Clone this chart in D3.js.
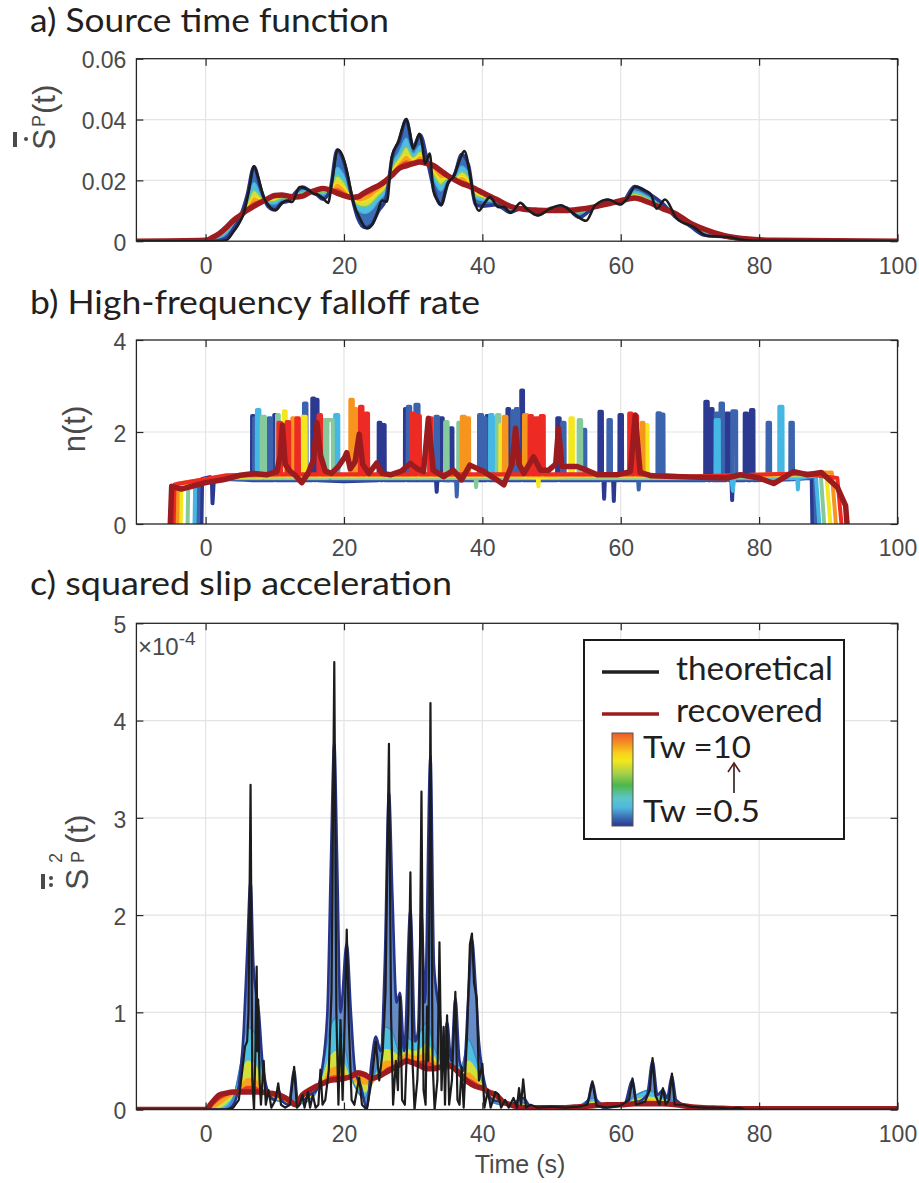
<!DOCTYPE html>
<html>
<head>
<meta charset="utf-8">
<script src="https://cdn.jsdelivr.net/npm/d3@7/dist/d3.min.js"></script>
<style>
  body { margin: 0; background: #fff; }
</style>
</head>
<body>
<svg id="fig" width="919" height="1183"></svg>
<script>
// ---------- shared x axis ----------
const xTickVals = [0, 20, 40, 60, 80, 100];
const xTickText = ['0', '20', '40', '60', '80', '100'];

// ---------- a) source time function ----------
const stfTicks = [0, 0.02, 0.04, 0.06];
const stfTickText = ['0', '0.02', '0.04', '0.06'];
// theoretical curve, [t, value]
const stfTheory = [[-10,0],[2,0],[3,0.0003],[4,0.003],[5,0.0065],[5.5,0.009],[6.2,0.016],[7.0,0.0246],[7.6,0.021],[8.4,0.0145],[9.2,0.0115],[10.1,0.0102],[11,0.0125],[11.7,0.0134],[12.5,0.0129],[13.6,0.0178],[14.3,0.0175],[14.9,0.0167],[15.6,0.0156],[16.3,0.0152],[17.0,0.014],[17.7,0.0126],[18.3,0.02],[19.1,0.0301],[19.8,0.028],[20.4,0.0233],[21.4,0.0124],[22.3,0.0075],[23.3,0.0042],[24.1,0.0055],[24.8,0.0091],[25.5,0.0134],[26.2,0.013],[26.9,0.0276],[27.9,0.0331],[28.4,0.037],[29.0,0.0402],[29.5,0.036],[30.0,0.0304],[30.9,0.0353],[31.3,0.032],[31.7,0.0255],[32.4,0.0288],[32.9,0.0167],[33.5,0.0135],[34.1,0.0118],[34.6,0.016],[35.1,0.0194],[35.8,0.0211],[36.6,0.026],[37.4,0.0296],[38.2,0.0222],[38.8,0.014],[39.5,0.0100],[40.3,0.0125],[41.1,0.0145],[42.3,0.0112],[43.1,0.0113],[44.1,0.0093],[45.5,0.0126],[46.4,0.0107],[48.0,0.0085],[49.8,0.0107],[51.3,0.0118],[53.2,0.0091],[55.0,0.0067],[56.3,0.0118],[58.2,0.0137],[59.9,0.0121],[61.1,0.0145],[62.1,0.018],[63.2,0.017],[64.3,0.0156],[65.2,0.0107],[66.4,0.0137],[68.1,0.0074],[70.5,0.0047],[72.5,0.0017],[75.4,0.0014],[77.8,0.0004],[80.2,0.0001],[100,0]];
// recovered curves share one time grid
const stfTime = [-10, 0,1,2,3,4,5,6,7,8,9,10, 11,12,13,14,15,16,17,18,19,20, 21,22,23,24,25,26,27,28,29,30, 31,32,33,34,35,36,37,38,39,40, 42,44,46,48,50,52,54,56,58,60,62,64,66,68,70, 72,75,78,82,100];
const stfTw05 = [0, 0,0,0.0002,0.001,0.004,0.008,0.015,0.0245,0.017,0.0115,0.0103, 0.0125,0.0132,0.016,0.0178,0.0167,0.0154,0.0138,0.017,0.030,0.026, 0.016,0.0075,0.0045,0.0055,0.010,0.0135,0.028,0.033,0.040,0.031, 0.035,0.027,0.017,0.012,0.019,0.022,0.0285,0.025,0.012,0.0115, 0.012,0.0095,0.011,0.0087,0.0108,0.011,0.0078,0.011,0.0135,0.0122,0.018,0.0158,0.0125,0.0078,0.005, 0.002,0.0014,0.0005,0.0001,0];
const stfTw1 = [0, 0.0001,0.0005,0.0011,0.0024,0.0051,0.0082,0.0131,0.0193,0.0153,0.0125,0.0122, 0.0136,0.0138,0.0154,0.0166,0.0164,0.016,0.0152,0.0169,0.0243,0.0216, 0.0154,0.0103,0.0091,0.0102,0.0133,0.016,0.0255,0.0294,0.0339,0.0288, 0.0314,0.0264,0.0201,0.0165,0.02,0.0213,0.0247,0.0223,0.0141,0.0133, 0.0127,0.0103,0.0108,0.0093,0.0105,0.0106,0.0089,0.0111,0.013,0.0126,0.0165,0.0146,0.0118,0.0083,0.0054, 0.0028,0.0016,0.0006,0.0002,0];
const stfTw2 = [0, 0.0002,0.0007,0.0016,0.0031,0.0057,0.0083,0.0121,0.0167,0.0145,0.013,0.0131, 0.0141,0.0142,0.0151,0.016,0.0163,0.0162,0.0159,0.0169,0.0215,0.0194, 0.015,0.0118,0.0114,0.0125,0.015,0.0173,0.0243,0.0276,0.0309,0.0277, 0.0296,0.0261,0.0217,0.0187,0.0205,0.0209,0.0228,0.0209,0.0151,0.0142, 0.0131,0.0107,0.0107,0.0096,0.0104,0.0105,0.0094,0.0111,0.0127,0.0129,0.0157,0.014,0.0115,0.0085,0.0056, 0.0032,0.0016,0.0007,0.0002,0];
const stfTw4 = [0, 0.0002,0.0009,0.0019,0.0037,0.0061,0.0084,0.0114,0.0146,0.0138,0.0134,0.0139, 0.0146,0.0144,0.0149,0.0155,0.0162,0.0165,0.0165,0.0168,0.0192,0.0176, 0.0148,0.0129,0.0132,0.0144,0.0163,0.0183,0.0233,0.0262,0.0284,0.0268, 0.0282,0.0259,0.0229,0.0205,0.0209,0.0206,0.0213,0.0198,0.016,0.0149, 0.0134,0.011,0.0106,0.0098,0.0103,0.0103,0.0099,0.0112,0.0125,0.013,0.0151,0.0135,0.0112,0.0087,0.0058, 0.0035,0.0017,0.0007,0.0003,0];
const stfTw7 = [0, 0.0003,0.0011,0.0023,0.0042,0.0065,0.0085,0.0107,0.0128,0.0132,0.0138,0.0145, 0.0149,0.0146,0.0147,0.0151,0.0161,0.0167,0.017,0.0168,0.0172,0.0161, 0.0146,0.0139,0.015,0.016,0.0175,0.0192,0.0224,0.0249,0.0263,0.026, 0.0269,0.0257,0.024,0.0221,0.0213,0.0204,0.02,0.0189,0.0167,0.0156, 0.0136,0.0113,0.0105,0.01,0.0102,0.0102,0.0102,0.0112,0.0123,0.0132,0.0146,0.0131,0.011,0.0089,0.0059, 0.0038,0.0018,0.0008,0.0003,0];
const stfTw10 = [0, 0.0003,0.0012,0.0025,0.0045,0.0068,0.0085,0.0102,0.0115,0.0128,0.014,0.015, 0.0152,0.0148,0.0145,0.0148,0.016,0.0168,0.0173,0.0168,0.0158,0.015, 0.0144,0.0146,0.016,0.0172,0.0183,0.0198,0.0218,0.024,0.0248,0.0255, 0.026,0.0255,0.0248,0.0232,0.0215,0.0202,0.019,0.0182,0.0172,0.016, 0.0138,0.0115,0.0105,0.0102,0.0101,0.0101,0.0105,0.0112,0.0122,0.0133,0.0142,0.0128,0.0108,0.009,0.006, 0.004,0.0018,0.0008,0.0003,0];

// ---------- b) high-frequency falloff rate ----------
const nTicks = [0, 2, 4];
const nTickText = ['0', '2', '4'];
// each Tw: base knots [t, n], bursts [start, end, peak n], base level under the bursts
const nLevel = [0.95, 0.97, 1.0, 1.0, 1.04, 1.06, 1.08];
const nBase05 = [[-0.6,0],[-0.5,0.98],[0.6,1.02],[0.9,1.0],[1.0,0.45],[1.2,1.0],[5,0.97],[20,0.93],[33.3,0.95],[33.4,0.7],[33.5,0.95],[50,0.95],[57.5,0.95],[57.6,0.55],[57.7,0.95],[58.9,0.95],[59.0,0.5],[59.1,0.95],[76.0,0.95],[76.1,0.52],[76.2,0.95],[87.6,1.0],[87.7,0]];
const nSpike05 = [[6.7,7.0,2.35],[9.9,10.2,2.37],[15.4,15.7,2.73],[15.9,16.2,2.7],[25.0,25.3,2.2],[25.6,25.9,2.15],[28.8,29.1,2.5],[33.9,34.3,2.3],[35.3,35.7,2.08],[40.6,41.0,2.35],[43.6,43.9,2.5],[45.6,45.9,2.9],[50.8,51.2,2.3],[56.9,57.3,2.44],[59.8,60.2,2.37],[72.2,72.6,2.66],[73.0,73.3,2.5],[75.2,75.7,2.4],[77.9,78.3,2.4],[78.8,79.2,2.48]];
const nBase1 = [[-1.1,0],[-1,0.95],[2,0.98],[20,0.97],[35,0.95],[36.2,0.95],[36.3,0.6],[36.4,0.95],[60,0.97],[62.5,0.97],[62.6,0.75],[62.7,0.97],[88.1,1.02],[88.2,0]];
const nSpike1 = [[7.0,7.3,2.3],[9.1,9.5,2.3],[14.2,14.6,2.62],[29.2,29.6,2.55],[30.3,30.8,2.59],[33.2,33.6,2.33],[39.5,40.0,2.37],[40.1,40.5,2.3],[44.3,44.7,2.45],[44.8,45.2,2.5],[51.5,51.9,2.2],[54.5,54.9,2.05],[58.2,58.6,2.26],[65.3,65.7,2.41],[65.8,66.2,2.38],[73.7,74.1,2.4],[74.4,74.8,2.62],[76.1,76.7,2.45],[81.2,81.6,2.2],[84.5,84.9,2.2]];
const nBase15 = [[-1.6,0],[-1.5,0.92],[3,1.0],[30,1.0],[60,1.0],[76,1.0],[76.2,0.72],[76.4,1.0],[85.5,1.0],[85.6,0.75],[85.7,1.0],[88.2,1.06],[88.7,0]];
const nSpike15 = [[7.4,7.8,2.48],[18.7,19.2,2.37],[41.1,41.5,2.37],[41.6,42.0,2.3],[73.7,74.2,2.26],[82.9,83.4,2.55]];
const nBase2 = [[-2.6,0],[-2.5,0.9],[3,1.0],[39,1.0],[39.1,0.8],[39.2,1.0],[70,1.0],[86,1.05],[88.9,1.1],[89.4,0]];
const nSpike2 = [[8.1,8.6,2.33],[10.3,10.6,2.37],[17.0,17.4,2.26],[17.6,18.4,2.26],[34.6,35.0,2.22],[36.5,36.9,2.2],[42.1,42.5,2.37],[53.9,54.3,2.26]];
const nBase4 = [[-3.6,0],[-3.5,0.88],[3,1.02],[48,1.02],[48.1,0.82],[48.2,1.02],[70,1.02],[86,1.08],[89.7,1.12],[90.3,0]];
const nSpike4 = [[11.3,11.6,2.45],[14.0,14.5,2.33],[42.6,43.0,2.15],[52.7,53.1,2.3],[63.5,63.9,2.15]];
const nBase6 = [[-4.1,0],[-4,0.88],[3,1.04],[70,1.02],[86,1.1],[90.5,1.12],[91.1,0]];
const nSpike6 = [[12.5,12.9,2.3],[20.9,21.3,2.7],[21.4,21.8,2.5],[37.0,37.5,2.33],[37.7,38.1,2.3],[43.1,43.5,2.33],[46.0,46.5,2.37],[63.0,63.3,2.2]];
const nBase8 = [[-4.6,0],[-4.5,0.86],[3,1.06],[70,1.03],[86,1.1],[91.3,1.0],[91.9,0]];
const nSpike8 = [[10.5,10.9,2.2],[11.7,12.1,2.22],[13.1,13.5,2.3],[16.3,16.7,2.37],[22.3,22.7,2.55],[23.1,23.5,2.4],[29.7,30.1,2.4],[30.5,31.0,2.35],[32.3,32.7,2.3],[46.8,47.2,2.35],[47.6,48.0,2.3],[48.4,48.9,2.35],[61.2,61.6,2.4],[61.9,62.4,2.35]];
const nTw10 = [[-5.1,0],[-4.9,0.82],[-3.5,0.76],[-2,0.82],[0,0.9],[2.5,0.96],[5,1.06],[7,1.1],[8.8,1.07],[10.3,1.14],[10.8,1.5],[11.1,2.15],[11.5,1.3],[12.2,1.15],[13,1.05],[13.9,0.9],[14.8,1.1],[15.6,1.4],[16.1,2.2],[16.6,1.5],[17.3,1.15],[18.2,1.1],[19.2,1.25],[20.1,1.45],[20.4,1.55],[20.9,1.2],[21.6,1.35],[22.2,1.95],[22.7,1.3],[23.6,1.1],[24.7,1.32],[25.5,1.1],[26.7,1.07],[28.3,1.15],[29.6,1.32],[30.6,1.2],[31.5,1.14],[32.2,2.3],[32.9,1.17],[34.4,1.03],[35.8,1.17],[37,0.96],[38.2,1.28],[40.2,1.14],[42.1,0.96],[43.1,0.85],[44.3,1.3],[44.8,2.08],[45.3,1.3],[46,1.1],[47.4,1.46],[48.4,1.17],[49.6,1.17],[50.6,1.3],[51,2.08],[51.5,1.25],[53.7,1.25],[55.1,1.17],[56.6,1.07],[59.5,1.07],[61.4,1.14],[62.1,2.37],[62.8,1.12],[64.3,1.05],[70,1.02],[75.3,1.0],[77.3,1.07],[80,1.0],[82.1,0.88],[85,1.14],[87,1.07],[89,1.12],[91.3,0.8],[92.5,0.4],[92.7,0]];

// ---------- c) squared slip acceleration, units of 1e-4 ----------
const accTicks = [0, 1, 2, 3, 4, 5];
const accTickText = ['0', '1', '2', '3', '4', '5'];
const accTheory = [[-10,0],[3,0],[4,0.02],[4.8,0.1],[5.3,0.4],[5.7,0.65],[6.0,0.7],[6.2,1.0],[6.5,3.34],[6.75,0.3],[7.0,0],[7.2,0.6],[7.38,1.47],[7.5,0.6],[7.6,1.13],[7.8,0.3],[8.0,0.05],[8.4,0.5],[8.7,0.05],[9.1,0.2],[9.5,0.02],[10.1,0.1],[10.5,0.27],[10.9,0.05],[11.5,0.02],[12.2,0.05],[12.8,0.44],[13.2,0.02],[13.6,0.05],[14.0,0.15],[14.3,0.02],[14.8,0.18],[15.1,0.02],[15.5,0.15],[15.9,0.02],[16.3,0.05],[16.6,0.41],[16.9,0.05],[17.3,0.1],[17.8,0.4],[18.2,1.2],[18.6,4.6],[18.9,1.0],[19.2,0.05],[19.5,0.92],[19.8,0.1],[20.1,0.9],[20.4,1.85],[20.7,0.9],[21.1,0.1],[21.5,0.05],[22.2,0.33],[22.6,0.05],[23.3,0],[24.0,0.3],[24.6,0.7],[25.1,0.3],[25.6,0.6],[26.0,1.2],[26.5,3.76],[26.8,1.0],[27.1,0.05],[27.5,0.5],[27.8,0.2],[28.1,1.16],[28.4,0.1],[28.8,0.05],[29.3,1.0],[29.6,2.44],[29.9,0.5],[30.2,0.0],[30.6,0.3],[30.9,0.9],[31.2,3.27],[31.5,0.2],[31.8,0.05],[32.0,1.06],[32.2,0.5],[32.5,4.18],[32.8,0.5],[33.1,0.0],[33.5,0.3],[33.8,1.72],[34.1,0.2],[34.4,0.85],[34.6,0.05],[34.9,0.97],[35.2,0.05],[35.6,0.3],[36.1,1.21],[36.4,0.1],[36.7,0.05],[37.0,0.44],[37.3,0.02],[37.8,0.8],[38.2,1.7],[38.5,1.81],[38.8,1.3],[39.2,1.14],[39.5,0.3],[40.0,0.47],[40.3,0.02],[40.8,0.2],[41.2,0.02],[41.9,0.18],[42.3,0.16],[42.7,0.02],[43.3,0.1],[43.8,0.02],[44.5,0.12],[45.0,0.02],[45.3,0.22],[45.6,0.05],[45.9,0.31],[46.3,0.02],[47,0.05],[48,0.02],[50,0.03],[52,0.02],[54,0.03],[55.2,0.05],[55.9,0.29],[56.5,0.04],[58,0.02],[60,0.04],[61.2,0.1],[61.7,0.32],[62.2,0.05],[63.5,0.08],[64.2,0.2],[64.6,0.53],[65.0,0.15],[65.6,0.05],[66.1,0.22],[66.5,0.05],[67.0,0.1],[67.4,0.37],[67.8,0.05],[69,0.05],[70,0.03],[72,0.02],[74,0.02],[76,0.01],[77,0.02],[78,0],[100,0]];
const accTw05 = [[-10,0],[3,0],[4,0.05],[4.8,0.25],[5.5,0.8],[6.0,1.6],[6.5,2.36],[6.9,1.5],[7.3,1.2],[7.7,1.0],[8.2,0.5],[8.6,0.3],[9.2,0.15],[10.0,0.1],[10.5,0.2],[11.2,0.08],[12.0,0.05],[12.8,0.4],[13.3,0.1],[14.2,0.1],[15,0.15],[16,0.2],[16.8,0.4],[17.6,1.0],[18.1,2.5],[18.6,3.77],[19.0,2.6],[19.5,1.0],[20.4,1.71],[21.0,1.0],[21.6,0.4],[22.4,0.25],[23.3,0.02],[24.0,0.5],[24.6,0.75],[25.3,0.6],[25.9,1.5],[26.5,3.26],[27.0,2.2],[27.6,1.1],[28.1,1.2],[28.7,0.6],[29.6,2.05],[30.3,0.7],[30.7,0.8],[31.2,2.02],[31.7,1.1],[32.5,3.64],[33.0,1.5],[33.8,1.0],[34.4,0.6],[34.9,0.9],[35.5,0.5],[36.1,1.15],[36.7,0.5],[37.3,0.4],[38.0,1.2],[38.5,1.75],[39.0,1.3],[39.5,0.7],[40.0,0.4],[40.6,0.2],[41.5,0.1],[42.5,0.08],[44,0.05],[45.9,0.12],[47,0.03],[50,0.02],[54,0.02],[55.3,0.1],[55.9,0.28],[56.5,0.1],[57.5,0.02],[60.5,0.05],[61.7,0.3],[62.3,0.08],[63.8,0.15],[64.6,0.5],[65.3,0.15],[66.1,0.2],[66.7,0.12],[67.4,0.35],[68.0,0.1],[69.5,0.04],[72,0.02],[76,0.01],[80,0],[100,0]];
const accTime = [-10, 0,1,2,3,4,5,6,7,8,9, 10,11,12,13,14,15,16,17,18,19, 20,21,22,23,24,25,26,27,28,29, 30,31,32,33,34,35,36,37,38,39, 40,41,42,43,44,45,46, 48,50,52,54,56,58,60,62,64,66,68,70,72,74,76,78,80, 90,100];
const accTw1 = [0, 0,0,0,0.02,0.12,0.45,0.85,0.8,0.45,0.2, 0.1,0.08,0.06,0.08,0.06,0.1,0.18,0.45,0.85,0.95, 0.7,0.35,0.18,0.12,0.3,0.5,0.85,0.8,0.6,0.75, 0.7,0.8,0.9,0.65,0.5,0.42,0.45,0.45,0.72,0.55, 0.28,0.1,0.06,0.05,0.05,0.07,0.07, 0.02,0.02,0.02,0.04,0.12,0.03,0.04,0.14,0.2,0.13,0.08,0.03,0.02,0.01,0.01,0,0, 0,0];
const accTw2 = [0, 0,0,0.02,0.06,0.15,0.32,0.5,0.48,0.32,0.18, 0.1,0.08,0.05,0.07,0.08,0.12,0.2,0.35,0.55,0.6, 0.48,0.3,0.22,0.18,0.25,0.42,0.62,0.6,0.55,0.62, 0.6,0.62,0.68,0.55,0.45,0.42,0.42,0.38,0.5,0.42, 0.25,0.12,0.08,0.06,0.05,0.05,0.05, 0.02,0.02,0.02,0.03,0.08,0.03,0.04,0.1,0.13,0.1,0.06,0.03,0.02,0.01,0.01,0,0, 0,0];
const accTw4 = [0, 0,0.01,0.05,0.1,0.16,0.24,0.32,0.32,0.24,0.16, 0.12,0.1,0.06,0.06,0.1,0.15,0.22,0.3,0.42,0.44, 0.38,0.3,0.28,0.26,0.27,0.36,0.5,0.5,0.52,0.58, 0.55,0.56,0.58,0.5,0.45,0.44,0.4,0.35,0.38,0.32, 0.22,0.14,0.1,0.07,0.05,0.04,0.04, 0.02,0.02,0.02,0.03,0.06,0.04,0.05,0.08,0.1,0.08,0.05,0.03,0.02,0.01,0.01,0.01,0, 0,0];
const accTw7 = [0, 0,0.04,0.1,0.14,0.17,0.2,0.24,0.24,0.2,0.16, 0.14,0.12,0.07,0.05,0.12,0.18,0.23,0.28,0.34,0.35, 0.33,0.32,0.35,0.33,0.3,0.34,0.42,0.45,0.48,0.53, 0.5,0.5,0.5,0.46,0.44,0.45,0.4,0.34,0.32,0.28, 0.22,0.16,0.12,0.07,0.05,0.03,0.03, 0.02,0.02,0.02,0.03,0.05,0.04,0.05,0.07,0.08,0.07,0.05,0.03,0.02,0.01,0.01,0.01,0.01, 0.01,0.01];
const accTw10 = [0, 0,0.08,0.15,0.17,0.18,0.18,0.18,0.18,0.18,0.17, 0.16,0.14,0.1,0.05,0.15,0.2,0.24,0.27,0.3,0.31, 0.32,0.34,0.38,0.36,0.32,0.34,0.38,0.42,0.46,0.5, 0.48,0.45,0.42,0.42,0.44,0.46,0.42,0.35,0.28,0.24, 0.22,0.18,0.15,0.08,0.05,0.03,0.02, 0.02,0.02,0.02,0.03,0.04,0.05,0.05,0.06,0.06,0.06,0.05,0.03,0.02,0.015,0.01,0.01,0.01, 0.01,0.01];

// ---------- text ----------
const titles = ['a) Source time function', 'b) High-frequency falloff rate', 'c) squared slip acceleration'];
const legendNames = ['theoretical', 'recovered'];
const legendTw = ['Tw =10', 'Tw =0.5'];

// ---------- styles ----------
const twColors = ['#2b3990', '#45aee0', '#7cc576', '#f5e71b', '#f15a24', '#9e1b1f'];
const twFills = ['#3a6fb6', '#4fbfe0', '#d4e03a', '#f9a31c', '#e8392a'];
const nColors = ['#2b3990', '#3c63ad', '#44b7e4', '#86c99c', '#f4e61f', '#f7941e', '#ee2a24', '#9b1b1f'];
const tickFont = "'Liberation Sans', Arial, Helvetica, sans-serif";
const textFont = "Lato, 'Noto Sans', sans-serif";
const axisGrey = '#262626';
const labelGrey = '#4a4a4a';

const svg = d3.select('#fig');
const defs = svg.append('defs');
const x = d3.scaleLinear().domain([-10, 100]).range([136.4, 897.5]);

let clipN = 0;
function makePanel(top, bottom, domain, ticks) {
  const y = d3.scaleLinear().domain(domain).range([bottom, top]);
  const g = svg.append('g');
  const id = 'clip' + (clipN++);
  defs.append('clipPath').attr('id', id).append('rect')
    .attr('x', x(-10)).attr('y', top).attr('width', x(100) - x(-10)).attr('height', bottom - top);
  const grid = g.append('g');
  grid.selectAll('.gx').data(xTickVals.slice(0, -1)).join('line').attr('class', 'gx')
    .attr('x1', d => x(d)).attr('x2', d => x(d)).attr('y1', top).attr('y2', bottom);
  grid.selectAll('.gy').data(ticks.slice(1, -1)).join('line').attr('class', 'gy')
    .attr('x1', x(-10)).attr('x2', x(100)).attr('y1', d => y(d)).attr('y2', d => y(d));
  grid.selectAll('line').attr('stroke', '#e4e4e4').attr('stroke-width', 1.2);
  const plot = g.append('g').attr('clip-path', `url(#${id})`);
  return { g, plot, y, top, bottom, ticks };
}

function styleAxis(sel) {
  sel.select('.domain').remove();
  sel.selectAll('line').attr('stroke', axisGrey).attr('stroke-width', 1.2);
  sel.selectAll('text').attr('fill', labelGrey).attr('font-family', tickFont).attr('font-size', 23);
}

function finishPanel(p, tickText) {
  p.g.append('rect').attr('x', x(-10)).attr('y', p.top)
    .attr('width', x(100) - x(-10)).attr('height', p.bottom - p.top)
    .attr('fill', 'none').attr('stroke', axisGrey).attr('stroke-width', 1.3);
  p.g.append('g').attr('transform', `translate(0,${p.bottom})`)
    .call(d3.axisBottom(x).tickValues(xTickVals).tickFormat((d, i) => xTickText[i]).tickSize(-7).tickPadding(16))
    .call(styleAxis);
  p.g.append('g').attr('transform', `translate(0,${p.top})`)
    .call(d3.axisTop(x).tickValues(xTickVals).tickFormat(() => '').tickSize(-7))
    .call(styleAxis);
  p.g.append('g').attr('transform', `translate(${x(-10)},0)`)
    .call(d3.axisLeft(p.y).tickValues(p.ticks).tickFormat((d, i) => tickText[i]).tickSize(-7).tickPadding(10))
    .call(styleAxis)
    .selectAll('text').attr('dy', '0.4em');
  p.g.append('g').attr('transform', `translate(${x(100)},0)`)
    .call(d3.axisRight(p.y).tickValues(p.ticks).tickFormat(() => '').tickSize(-7))
    .call(styleAxis);
}

function drawBands(p, times, series, fills, curve) {
  for (let k = 0; k < series.length - 1; k++) {
    const rows = times.map((t, i) => [t, series[k][i], series[k + 1][i]]);
    const area = d3.area().x(d => x(d[0])).y0(d => p.y(d[1])).y1(d => p.y(d[2])).curve(curve);
    p.plot.append('path').datum(rows).attr('d', area)
      .attr('fill', fills[k]).attr('stroke', fills[k]).attr('stroke-width', 0.8);
  }
}

function drawPairs(p, pts, color, width, curve) {
  const line = d3.line().x(d => x(d[0])).y(d => p.y(d[1])).curve(curve);
  p.plot.append('path').datum(pts).attr('d', line)
    .attr('fill', 'none').attr('stroke', color).attr('stroke-width', width)
    .attr('stroke-linejoin', 'round').attr('stroke-linecap', 'round');
}

function drawGridLine(p, times, vals, color, width, curve) {
  drawPairs(p, times.map((t, i) => [t, vals[i]]), color, width, curve);
}

// base knots plus rectangular bursts, in time order
function withSpikes(base, spikes, level) {
  const pts = base.map(d => d.slice());
  spikes.forEach(s => pts.push([s[0], level], [s[0] + 0.02, s[2]], [s[1] - 0.02, s[2]], [s[1], level]));
  return pts.sort((a, b) => a[0] - b[0]);
}

// ---------- panel a ----------
const pa = makePanel(58.7, 241.2, [0, 0.06], stfTicks);
const stfSeries = [stfTw05, stfTw1, stfTw2, stfTw4, stfTw7, stfTw10];
drawBands(pa, stfTime, stfSeries, twFills, d3.curveMonotoneX);
[1, 2, 3, 4].forEach(k => drawGridLine(pa, stfTime, stfSeries[k], twColors[k], 1.2, d3.curveMonotoneX));
drawGridLine(pa, stfTime, stfTw05, twColors[0], 3.5, d3.curveMonotoneX);
drawGridLine(pa, stfTime, stfTw10, twColors[5], 5.5, d3.curveMonotoneX);
drawPairs(pa, stfTheory, '#1c1c1c', 2.6, d3.curveMonotoneX);
finishPanel(pa, stfTickText);

// ---------- panel b ----------
const pb = makePanel(340, 524, [0, 4], nTicks);
const nBases = [nBase05, nBase1, nBase15, nBase2, nBase4, nBase6, nBase8];
const nSpikes = [nSpike05, nSpike1, nSpike15, nSpike2, nSpike4, nSpike6, nSpike8];
nBases.forEach((b, k) => drawPairs(pb, withSpikes(b, nSpikes[k], nLevel[k]), nColors[k], 4, d3.curveLinear));
drawPairs(pb, nTw10, nColors[7], 5.5, d3.curveLinear);
finishPanel(pb, nTickText);

// ---------- panel c ----------
const pc = makePanel(623.3, 1109.6, [0, 5], accTicks);
const accSeries = [accTw1, accTw2, accTw4, accTw7, accTw10];
// blue region between Tw=0.5 and Tw=1
const tw1Pts = accTime.map((t, i) => [t, accTw1[i]]);
pc.plot.append('path')
  .attr('d', d3.line().x(d => x(d[0])).y(d => pc.y(d[1]))(accTw05.concat(tw1Pts.slice().reverse())) + 'Z')
  .attr('fill', '#4a78c0').attr('fill-opacity', 0.85);
drawBands(pc, accTime, accSeries, twFills.slice(1), d3.curveMonotoneX);
drawGridLine(pc, accTime, accTw1, '#3f86c6', 1.5, d3.curveMonotoneX);
drawPairs(pc, accTw05, '#26348a', 2.6, d3.curveMonotoneX);
drawGridLine(pc, accTime, accTw10, twColors[5], 5.5, d3.curveMonotoneX);
drawPairs(pc, accTheory, '#1c1c1c', 2.2, d3.curveLinear);
finishPanel(pc, accTickText);

// exponent
const expo = svg.append('text').attr('x', 138).attr('y', 655)
  .attr('font-family', tickFont).attr('font-size', 24).attr('fill', labelGrey);
expo.append('tspan').text('\u00d710');
expo.append('tspan').attr('dy', -10).attr('font-size', 19).text('-4');

// ---------- titles ----------
const titleY = [32, 314, 595];
const titleW = [359, 450, 422];
titles.forEach((t, i) => {
  svg.append('text').attr('x', 30).attr('y', titleY[i]).text(t)
    .attr('font-family', textFont).attr('font-size', 33).attr('fill', '#231f20')
    .attr('textLength', titleW[i]).attr('lengthAdjust', 'spacingAndGlyphs');
});

// ---------- axis labels ----------
svg.append('text').attr('x', 520).attr('y', 1173).attr('text-anchor', 'middle')
  .attr('font-family', tickFont).attr('font-size', 25).attr('fill', labelGrey).text('Time (s)');

function yLabel(tx, ty, parts, marks) {
  const g = svg.append('g').attr('transform', `translate(${tx},${ty}) rotate(-90)`)
    .attr('fill', labelGrey).attr('font-family', tickFont);
  parts.forEach(pt => g.append('text').attr('x', pt.x).attr('y', pt.y).attr('font-size', pt.size).text(pt.s));
  marks.forEach(m => {
    if (m.r) g.append('circle').attr('cx', m.x).attr('cy', m.y).attr('r', m.r);
    else g.append('rect').attr('x', m.x).attr('y', m.y).attr('width', m.w).attr('height', m.h);
  });
  return g;
}
yLabel(55, 150,
  [{ s: 'S', x: 0, y: 0, size: 32 }, { s: 'P', x: 23, y: -10, size: 18 }, { s: '(t)', x: 36, y: 0, size: 31 }],
  [{ x: 3, y: -42, w: 15, h: 4 }, { x: 11, y: -29, r: 2 }]);
yLabel(88, 890,
  [{ s: 'S', x: 0, y: 0, size: 32 }, { s: '2', x: 27, y: -26, size: 18 }, { s: 'P', x: 27, y: -4, size: 18 }, { s: '(t)', x: 46, y: 0, size: 31 }],
  [{ x: 1, y: -47, w: 15, h: 4 }, { x: 5, y: -37, r: 2 }, { x: 12, y: -37, r: 2 }]);
svg.append('g').attr('transform', 'translate(85,429) rotate(-90)')
  .append('text').attr('text-anchor', 'middle').attr('font-family', tickFont)
  .attr('font-size', 31).attr('fill', labelGrey).text('n(t)');

// ---------- legend ----------
const grad = defs.append('linearGradient').attr('id', 'cbar').attr('x1', 0).attr('y1', 0).attr('x2', 0).attr('y2', 1);
[['0%', '#ee5a2c'], ['10%', '#f58a22'], ['22%', '#f7d21b'], ['30%', '#f2e81a'], ['43%', '#a9d14a'],
 ['56%', '#4db74a'], ['70%', '#5cc5c9'], ['80%', '#4fb8df'], ['91%', '#3b6cb4'], ['100%', '#283891']]
  .forEach(s => grad.append('stop').attr('offset', s[0]).attr('stop-color', s[1]));

const lg = svg.append('g');
lg.append('rect').attr('x', 584).attr('y', 640).attr('width', 260).attr('height', 199)
  .attr('fill', '#fff').attr('stroke', '#1a1a1a').attr('stroke-width', 2);
const legendColors = ['#231f20', '#9b1b1f'];
const legendY = [672, 714];
const legendW = [157, 147];
legendNames.forEach((n, i) => {
  lg.append('line').attr('x1', 602).attr('x2', 659).attr('y1', legendY[i]).attr('y2', legendY[i])
    .attr('stroke', legendColors[i]).attr('stroke-width', 3.5);
  lg.append('text').attr('x', 676).attr('y', legendY[i] + 8).text(n)
    .attr('font-family', textFont).attr('font-size', 33).attr('fill', '#231f20')
    .attr('textLength', legendW[i]).attr('lengthAdjust', 'spacingAndGlyphs');
});
lg.append('rect').attr('x', 612).attr('y', 733).attr('width', 21).attr('height', 93)
  .attr('fill', 'url(#cbar)').attr('stroke', '#555').attr('stroke-width', 1);
const twY = [758, 822];
const twW = [108, 117];
legendTw.forEach((t, i) => {
  lg.append('text').attr('x', 643).attr('y', twY[i]).text(t)
    .attr('font-family', textFont).attr('font-size', 31).attr('fill', '#231f20')
    .attr('textLength', twW[i]).attr('lengthAdjust', 'spacingAndGlyphs');
});
lg.append('line').attr('x1', 734).attr('x2', 734).attr('y1', 793).attr('y2', 764)
  .attr('stroke', '#2a1a1a').attr('stroke-width', 1.6);
lg.append('path').attr('d', 'M728,772 L734,763 L740,772')
  .attr('fill', 'none').attr('stroke', '#5a1a1a').attr('stroke-width', 1.6);
</script>
</body>
</html>
